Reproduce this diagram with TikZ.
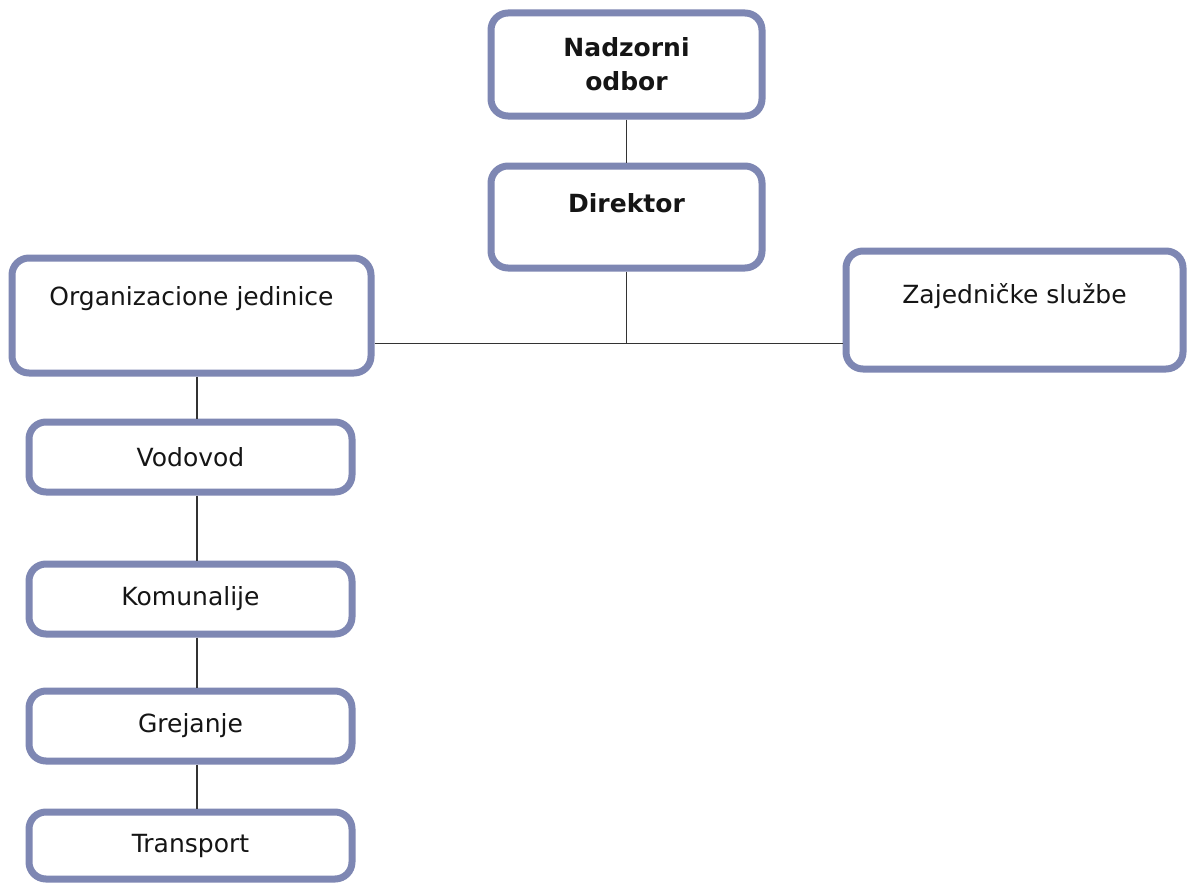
\documentclass[tikz,border=0pt]{standalone}
\usepackage{fontspec}
\setmainfont{DejaVu Sans}
\definecolor{boxline}{HTML}{7E87B3}
\definecolor{conn}{HTML}{333333}
\definecolor{txt}{HTML}{151515}
\begin{document}
\begin{tikzpicture}[x=1pt,y=-1pt,
  box/.style={draw=boxline, line width=7pt, rounded corners=17pt, fill=white,
    inner sep=0pt, text=txt, font=\fontsize{25}{32}\selectfont, align=center},
  link/.style={draw=conn, line width=1.8pt},
  boxtext/.style={text=txt, font=\fontsize{25}{32}\selectfont}
]
\useasboundingbox (0,0) rectangle (1188,883);
\fill[white] (0,0) rectangle (1188,883);

\node[box, minimum width=271pt, minimum height=103pt, font=\fontsize{25}{34}\selectfont\bfseries] (nad) at (626.5,64.5) {Nadzorni\\odbor};
\node[box, minimum width=271pt, minimum height=102pt,
  label={[boxtext, font=\fontsize{25}{32}\selectfont\bfseries, yshift=14pt]center:Direktor}] (dir) at (626.5,217) {};
\node[box, minimum width=359pt, minimum height=115pt,
  label={[boxtext, yshift=17pt]center:Organizacione jedinice}] (org) at (191.5,315.5) {};
\node[box, minimum width=337pt, minimum height=118pt,
  label={[boxtext, yshift=14pt]center:Zajedničke službe}] (zaj) at (1014.5,310) {};
\node[box, minimum width=323pt, minimum height=70pt] (vod) at (190.5,457) {Vodovod};
\node[box, minimum width=323pt, minimum height=70pt] (kom) at (190.5,599) {Komunalije};
\node[box, minimum width=323pt, minimum height=70pt] (gre) at (190.5,726) {Grejanje};
\node[box, minimum width=323pt, minimum height=67pt] (tra) at (190.5,845.5) {Transport};

\coordinate (hub) at ([yshift=-72pt]dir.south);
\coordinate (col) at (197,0);
\draw[link] (nad.south) -- (dir.north);
\draw[link] (dir.south) -- (hub);
\draw[link] (org.east |- hub) -- (zaj.west |- hub);
\draw[link] (col |- org.south) -- (col |- vod.north);
\draw[link] (col |- vod.south) -- (col |- kom.north);
\draw[link] (col |- kom.south) -- (col |- gre.north);
\draw[link] (col |- gre.south) -- (col |- tra.north);
\end{tikzpicture}
\end{document}
